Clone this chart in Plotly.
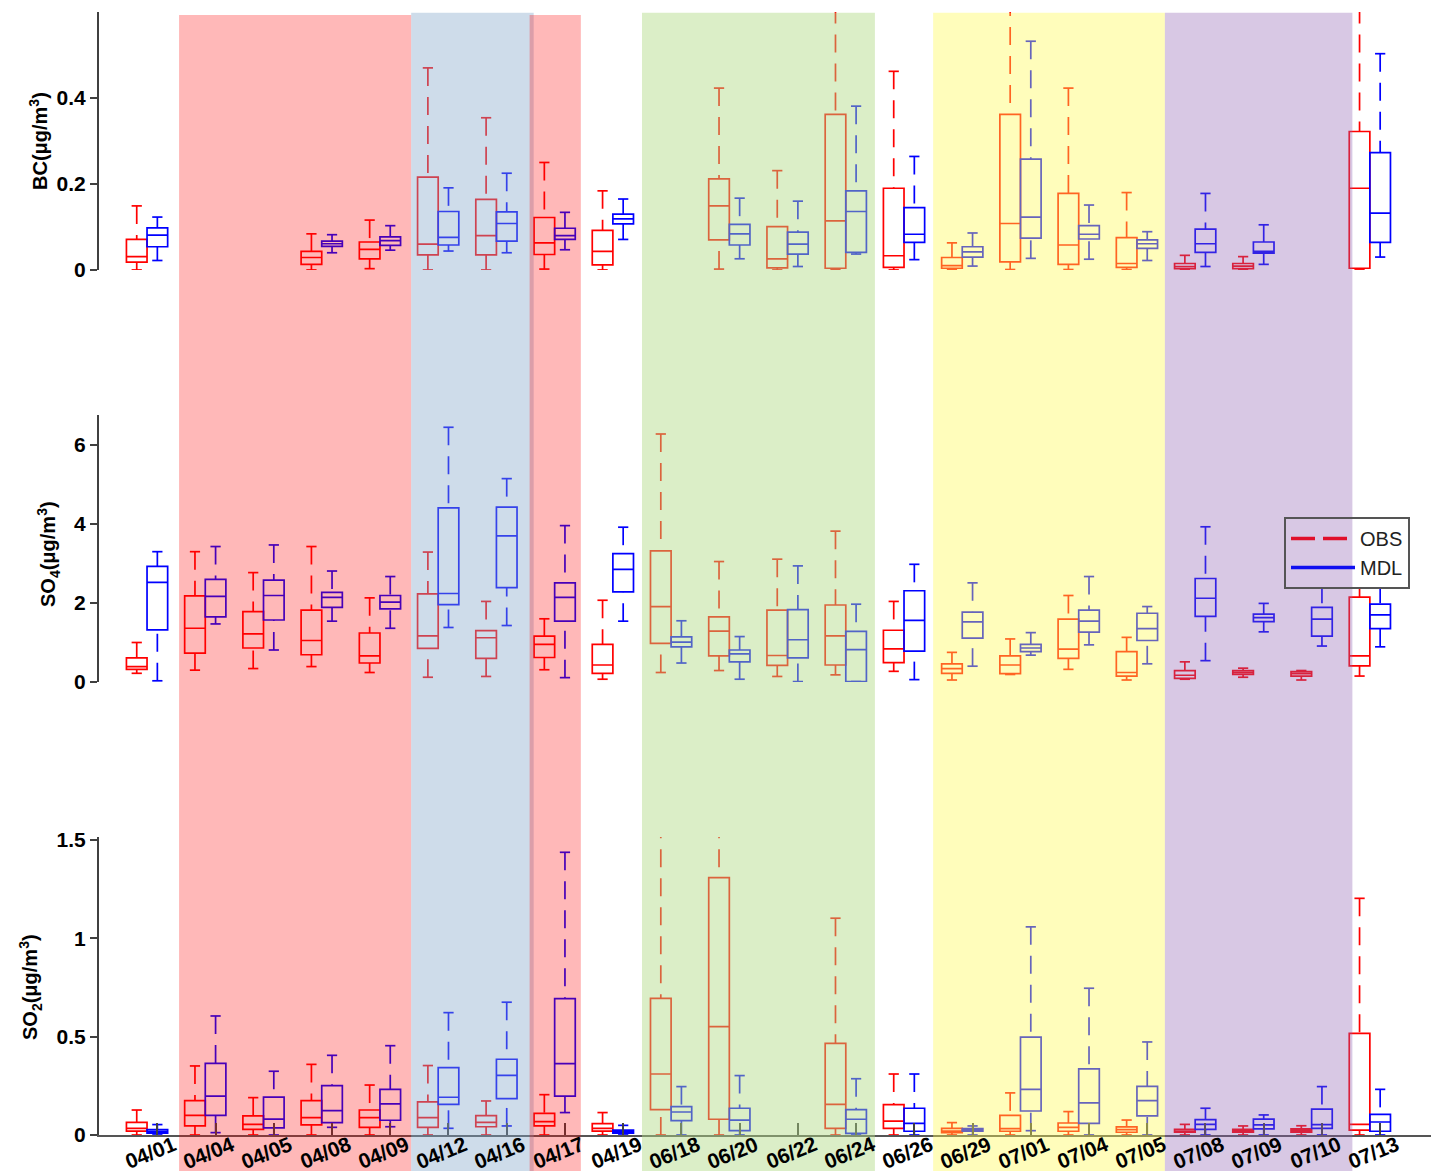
import plotly.graph_objects as go

# ---------------- data ----------------
DATES = ["04/01", "04/04", "04/05", "04/08", "04/09", "04/12", "04/16", "04/17", "04/19",
         "06/18", "06/20", "06/22", "06/24", "06/26", "06/29", "07/01", "07/04", "07/05",
         "07/08", "07/09", "07/10", "07/13"]

# BC (ug/m3): lower whisker, q1, median, q3, upper whisker
BC_OBS_LO = [0, None, None, 0, 0.003, 0, 0, 0.002, 0, None, 0.002, 0, 0.001, 0, 0.001, 0.001, 0.001, 0.001, 0.001, 0.001, None, 0.002]
BC_OBS_Q1 = [0.018, None, None, 0.013, 0.026, 0.035, 0.035, 0.036, 0.012, None, 0.070, 0.005, 0.004, 0.006, 0.004, 0.019, 0.013, 0.006, 0.003, 0.003, None, 0.004]
BC_OBS_MED = [0.031, None, None, 0.029, 0.048, 0.060, 0.080, 0.063, 0.043, None, 0.149, 0.026, 0.114, 0.033, 0.010, 0.108, 0.058, 0.015, 0.008, 0.009, None, 0.190]
BC_OBS_Q3 = [0.071, None, None, 0.043, 0.065, 0.216, 0.164, 0.122, 0.092, None, 0.212, 0.101, 0.362, 0.190, 0.029, 0.362, 0.178, 0.075, 0.015, 0.015, None, 0.322]
BC_OBS_HI = [0.149, None, None, 0.084, 0.116, 0.470, 0.354, 0.250, 0.184, None, 0.423, 0.231, 0.750, 0.462, 0.063, 0.700, 0.423, 0.180, 0.034, 0.031, None, 0.750]

BC_MDL_LO = [0.022, None, None, 0.040, 0.046, 0.044, 0.040, 0.047, 0.071, None, 0.026, 0.008, 0.037, 0.024, 0.009, 0.027, 0.025, 0.022, 0.008, 0.013, None, 0.030]
BC_MDL_Q1 = [0.054, None, None, 0.055, 0.057, 0.058, 0.067, 0.071, 0.107, None, 0.058, 0.037, 0.041, 0.064, 0.030, 0.074, 0.072, 0.050, 0.041, 0.039, None, 0.064]
BC_MDL_MED = [0.081, None, None, 0.061, 0.068, 0.076, 0.108, 0.080, 0.119, None, 0.084, 0.060, 0.136, 0.083, 0.042, 0.123, 0.083, 0.061, 0.061, 0.043, None, 0.132]
BC_MDL_Q3 = [0.098, None, None, 0.067, 0.077, 0.136, 0.135, 0.097, 0.130, None, 0.106, 0.088, 0.184, 0.145, 0.054, 0.258, 0.103, 0.070, 0.095, 0.065, None, 0.273]
BC_MDL_HI = [0.123, None, None, 0.082, 0.103, 0.191, 0.225, 0.134, 0.165, None, 0.167, 0.160, 0.381, 0.264, 0.086, 0.532, 0.151, 0.089, 0.178, 0.105, None, 0.503]

# SO4 (ug/m3)
SO4_OBS_LO = [0.22, 0.30, 0.34, 0.39, 0.24, 0.12, 0.14, 0.31, 0.07, 0.24, 0.29, 0.14, 0.18, 0.27, 0.05, 0.19, 0.32, 0.05, 0.07, 0.12, 0.05, 0.15]
SO4_OBS_Q1 = [0.32, 0.73, 0.86, 0.69, 0.48, 0.85, 0.60, 0.62, 0.22, 0.98, 0.66, 0.42, 0.43, 0.49, 0.22, 0.21, 0.60, 0.15, 0.09, 0.19, 0.15, 0.41]
SO4_OBS_MED = [0.39, 1.36, 1.22, 1.05, 0.66, 1.17, 1.12, 0.95, 0.43, 1.91, 1.29, 0.67, 1.17, 0.84, 0.34, 0.43, 0.83, 0.24, 0.17, 0.24, 0.21, 0.66]
SO4_OBS_Q3 = [0.61, 2.18, 1.78, 1.82, 1.24, 2.23, 1.30, 1.16, 0.95, 3.32, 1.65, 1.82, 1.95, 1.31, 0.46, 0.66, 1.59, 0.77, 0.29, 0.29, 0.26, 2.15]
SO4_OBS_HI = [1.00, 3.30, 2.77, 3.43, 2.13, 3.29, 2.04, 1.60, 2.07, 6.28, 3.05, 3.11, 3.82, 2.04, 0.75, 1.09, 2.19, 1.13, 0.51, 0.35, 0.29, 2.55]

SO4_MDL_LO = [0.03, 1.47, 0.81, 1.54, 1.36, 1.38, 1.43, 0.11, 1.54, 0.48, 0.07, 0.01, 0.01, 0.06, 0.40, 0.68, 0.94, 0.46, 0.54, 1.27, 0.91, 0.89]
SO4_MDL_Q1 = [1.32, 1.65, 1.57, 1.89, 1.85, 1.96, 2.39, 1.54, 2.28, 0.89, 0.51, 0.61, 0.01, 0.78, 1.11, 0.77, 1.26, 1.05, 1.66, 1.53, 1.16, 1.35]
SO4_MDL_MED = [2.52, 2.17, 2.19, 2.14, 2.02, 2.24, 3.70, 2.14, 2.85, 1.01, 0.71, 1.07, 0.82, 1.56, 1.52, 0.86, 1.54, 1.35, 2.12, 1.63, 1.59, 1.70]
SO4_MDL_Q3 = [2.93, 2.60, 2.58, 2.27, 2.19, 4.41, 4.43, 2.51, 3.25, 1.14, 0.81, 1.83, 1.28, 2.31, 1.77, 0.95, 1.82, 1.74, 2.62, 1.72, 1.89, 1.97]
SO4_MDL_HI = [3.30, 3.43, 3.47, 2.81, 2.67, 6.45, 5.15, 3.96, 3.92, 1.55, 1.15, 2.94, 1.97, 2.98, 2.51, 1.25, 2.67, 1.91, 3.93, 1.99, 2.45, 2.45]

# SO2 (ug/m3)
SO2_OBS_LO = [0, 0, 0, 0, 0, 0, 0, 0, 0, 0, 0, None, 0, 0, 0, 0, 0, 0, 0, 0, 0, 0]
SO2_OBS_Q1 = [0.020, 0.046, 0.029, 0.051, 0.039, 0.039, 0.042, 0.046, 0.020, 0.129, 0.080, None, 0.034, 0.034, 0.012, 0.019, 0.019, 0.014, 0.014, 0.014, 0.015, 0.025]
SO2_OBS_MED = [0.034, 0.100, 0.054, 0.088, 0.088, 0.088, 0.064, 0.068, 0.034, 0.310, 0.551, None, 0.156, 0.071, 0.020, 0.032, 0.039, 0.027, 0.019, 0.020, 0.022, 0.054]
SO2_OBS_Q3 = [0.064, 0.175, 0.097, 0.175, 0.127, 0.168, 0.098, 0.110, 0.058, 0.695, 1.308, None, 0.466, 0.154, 0.034, 0.100, 0.061, 0.041, 0.029, 0.029, 0.031, 0.517]
SO2_OBS_HI = [0.127, 0.351, 0.190, 0.359, 0.254, 0.353, 0.173, 0.205, 0.114, 1.600, 1.600, None, 1.102, 0.310, 0.063, 0.214, 0.119, 0.076, 0.054, 0.046, 0.047, 1.203]

SO2_MDL_LO = [0, 0.012, 0, 0.039, 0.042, 0.034, 0.046, 0.114, 0, 0, 0, None, 0, 0, 0, 0.022, 0, 0, 0, 0, 0, 0]
SO2_MDL_Q1 = [0.010, 0.100, 0.036, 0.063, 0.075, 0.156, 0.185, 0.198, 0.010, 0.073, 0.022, None, 0.008, 0.019, 0.020, 0.122, 0.059, 0.097, 0.029, 0.031, 0.034, 0.019]
SO2_MDL_MED = [0.017, 0.198, 0.081, 0.124, 0.158, 0.192, 0.303, 0.363, 0.017, 0.117, 0.076, None, 0.080, 0.059, 0.027, 0.232, 0.163, 0.175, 0.054, 0.051, 0.053, 0.066]
SO2_MDL_Q3 = [0.027, 0.364, 0.193, 0.251, 0.232, 0.342, 0.385, 0.693, 0.025, 0.144, 0.136, None, 0.129, 0.136, 0.032, 0.498, 0.336, 0.247, 0.078, 0.081, 0.132, 0.105]
SO2_MDL_HI = [0.053, 0.605, 0.324, 0.405, 0.454, 0.622, 0.675, 1.437, 0.049, 0.246, 0.302, None, 0.286, 0.310, 0.046, 1.058, 0.746, 0.473, 0.136, 0.102, 0.246, 0.232]

# shaded episodes: (start, end) in date-index units, colour
EPISODES = [(1.55, 5.536, "rgba(255,0,0,0.28)"),
            (5.536, 7.64, "rgba(132,167,202,0.40)"),
            (7.57, 8.45, "rgba(255,0,0,0.28)"),
            (9.50, 13.50, "rgba(176,217,133,0.46)"),
            (14.50, 18.48, "rgba(255,250,85,0.40)"),
            (18.48, 21.70, "rgba(143,97,177,0.35)")]

# ---------------- figure ----------------
FONT = "Liberation Sans, Arial, Helvetica, sans-serif"
POS = list(range(1, len(DATES) + 1))
OFF = 0.177
BOXW = 0.354
CAPW = 0.088
OBS_COLOR = "#ff0000"
MDL_COLOR = "#0000ff"
AXC = "#404040"

fig = go.Figure()

panels = [
    ("x", "y", (BC_OBS_LO, BC_OBS_Q1, BC_OBS_MED, BC_OBS_Q3, BC_OBS_HI),
     (BC_MDL_LO, BC_MDL_Q1, BC_MDL_MED, BC_MDL_Q3, BC_MDL_HI)),
    ("x2", "y2", (SO4_OBS_LO, SO4_OBS_Q1, SO4_OBS_MED, SO4_OBS_Q3, SO4_OBS_HI),
     (SO4_MDL_LO, SO4_MDL_Q1, SO4_MDL_MED, SO4_MDL_Q3, SO4_MDL_HI)),
    ("x3", "y3", (SO2_OBS_LO, SO2_OBS_Q1, SO2_OBS_MED, SO2_OBS_Q3, SO2_OBS_HI),
     (SO2_MDL_LO, SO2_MDL_Q1, SO2_MDL_MED, SO2_MDL_Q3, SO2_MDL_HI)),
]


def add_series(xa, ya, stats, shift, color):
    lo, q1, med, q3, hi = stats
    idx = [i for i in range(len(POS)) if med[i] is not None]
    xs = [POS[i] + shift for i in idx]
    fig.add_trace(go.Box(
        x=xs, q1=[q1[i] for i in idx], median=[med[i] for i in idx],
        q3=[q3[i] for i in idx], lowerfence=[q1[i] for i in idx],
        upperfence=[q3[i] for i in idx], width=BOXW, whiskerwidth=0,
        line=dict(color=color, width=1.7), fillcolor="rgba(0,0,0,0)",
        boxpoints=False, showlegend=False, hoverinfo="skip",
        xaxis=xa, yaxis=ya))
    wx, wy, cx, cy = [], [], [], []
    for i in idx:
        p = POS[i] + shift
        wx += [p, p, None, p, p, None]
        wy += [hi[i], q3[i], None, lo[i], q1[i], None]
        cx += [p - CAPW, p + CAPW, None, p - CAPW, p + CAPW, None]
        cy += [hi[i], hi[i], None, lo[i], lo[i], None]
    fig.add_trace(go.Scatter(x=wx, y=wy, mode="lines", showlegend=False, hoverinfo="skip",
                             line=dict(color=color, width=1.7, dash="18px,11px"),
                             xaxis=xa, yaxis=ya))
    fig.add_trace(go.Scatter(x=cx, y=cy, mode="lines", showlegend=False, hoverinfo="skip",
                             line=dict(color=color, width=1.7), xaxis=xa, yaxis=ya))


for xa, ya, obs, mdl in panels:
    add_series(xa, ya, obs, -OFF, OBS_COLOR)
    add_series(xa, ya, mdl, OFF, MDL_COLOR)

# legend entries
fig.add_trace(go.Scatter(x=[None], y=[None], mode="lines", name="OBS",
                         line=dict(color="#e0102a", width=3.5, dash="24px,8px"),
                         xaxis="x3", yaxis="y3"))
fig.add_trace(go.Scatter(x=[None], y=[None], mode="lines", name="MDL",
                         line=dict(color="#1010f0", width=3.5),
                         xaxis="x3", yaxis="y3"))

XR = [0.175, 23.05]
DOM = {"y": [0.7703, 1.0], "y2": [0.4034, 0.6411], "y3": [0.0, 0.2654]}

yaxis_common = dict(showline=True, linecolor=AXC, linewidth=2, ticks="outside",
                    ticklen=7, tickwidth=2, tickcolor=AXC, showgrid=False, zeroline=False,
                    tickfont=dict(family=FONT, size=21, color="black", weight="bold"))

LEG_TOP = 517
LEG_BOTTOM = 588
LEG_LEFT = 1284
LEG_RIGHT = 1416

fig.update_layout(
    width=1431, height=1174,
    margin=dict(l=99, r=0, t=12, b=39),
    paper_bgcolor="white", plot_bgcolor="white",
    font=dict(family=FONT, color="black"),
    boxmode="overlay",
    xaxis=dict(domain=[0, 1], anchor="y", range=XR, visible=False),
    xaxis2=dict(domain=[0, 1], anchor="y2", range=XR, visible=False),
    xaxis3=dict(domain=[0, 1], anchor="y3", range=XR, showline=True, linecolor="#555555",
                linewidth=2, ticks="inside", ticklen=12, tickwidth=1.5, tickcolor="#404040",
                tickvals=[p + OFF for p in POS], showticklabels=False,
                showgrid=False, zeroline=False),
    yaxis=dict(domain=DOM["y"], anchor="x", range=[0, 0.6], tickvals=[0, 0.2, 0.4],
               ticktext=["0", "0.2", "0.4"], **yaxis_common),
    yaxis2=dict(domain=DOM["y2"], anchor="x2", range=[0, 6.76], tickvals=[0, 2, 4, 6],
                ticktext=["0", "2", "4", "6"], **yaxis_common),
    yaxis3=dict(domain=DOM["y3"], anchor="x3", range=[0, 1.515], tickvals=[0, 0.5, 1, 1.5],
                ticktext=["0", "0.5", "1", "1.5"], **yaxis_common),
    legend=dict(x=(LEG_LEFT - 99) / 1332, y=(1135 - LEG_TOP) / 1123,
                xanchor="left", yanchor="top",
                bgcolor="rgba(0,0,0,0)", bordercolor="#555555", borderwidth=2,
                font=dict(family=FONT, size=20, color="#222222"),
                itemwidth=64, tracegroupgap=0),
    showlegend=True,
)

# white backing of the legend box (sits under the shaded overlays)
shapes = [dict(type="rect", xref="paper", yref="paper",
               x0=(LEG_LEFT - 99) / 1332, x1=(LEG_RIGHT - 99) / 1332,
               y0=(1135 - LEG_BOTTOM) / 1123, y1=(1135 - LEG_TOP) / 1123,
               fillcolor="white", line=dict(width=0), layer="above")]
for x0, x1, col in EPISODES:
    top = 0.9973 if col.startswith("rgba(255,0,0") else 0.9994
    shapes.append(dict(type="rect", xref="x3", yref="paper", x0=x0, x1=x1,
                       y0=-0.032, y1=top, fillcolor=col, line=dict(width=0),
                       layer="above"))
fig.update_layout(shapes=shapes)

# x tick labels (rotated about their centre, as in the original)
annotations = []
for p, d in zip(POS, DATES):
    annotations.append(dict(x=p + 0.06, y=(1135 - 1152) / 1123, xref="x3", yref="paper",
                            text=d, showarrow=False, textangle=-22, xanchor="center",
                            yanchor="middle",
                            font=dict(family=FONT, size=21, color="black", weight="bold")))

# y-axis titles
YTITLES = [("BC(μg/m<sup>3</sup>)", 38, 141),
           ("SO<sub>4</sub>(μg/m<sup>3</sup>)", 48, 554),
           ("SO<sub>2</sub>(μg/m<sup>3</sup>)", 30, 987)]
for txt, px, py in YTITLES:
    annotations.append(dict(x=(px - 99) / 1332, y=(1135 - py) / 1123, xref="paper",
                            yref="paper", text=txt, showarrow=False, textangle=-90,
                            xanchor="center", yanchor="middle",
                            font=dict(family=FONT, size=20, color="black", weight="bold")))
fig.update_layout(annotations=annotations)

fig.write_html("out.html", config={"displayModeBar": False},
               post_script="document.body.style.margin='0';document.body.style.overflow='hidden';")
